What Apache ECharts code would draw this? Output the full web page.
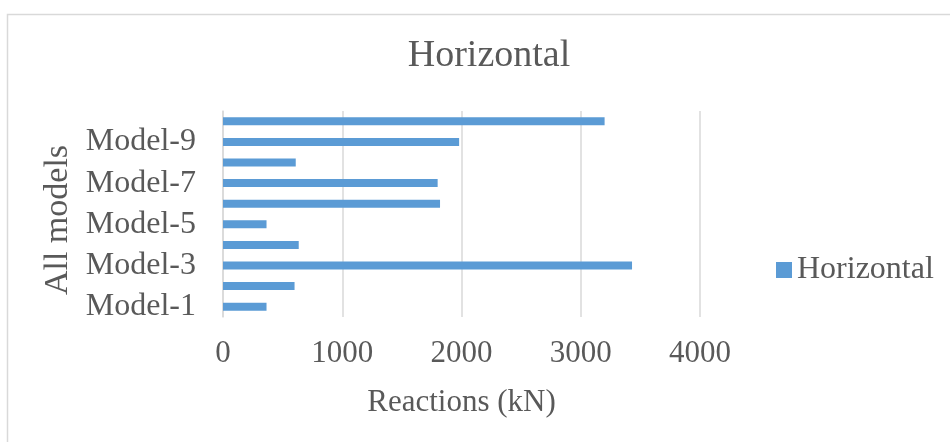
<!DOCTYPE html>
<html>
<head>
    <meta charset="UTF-8">
    <title>Horizontal</title>
    <script src="https://cdn.jsdelivr.net/npm/echarts@6/dist/echarts.min.js"></script>
    <style type="text/css">
        html, body, #main {
            height: 100%;
            width: 100%;
            margin: 0;
            padding: 0;
            background: #fff;
        }
    </style>
</head>
<body>
<div id="main"></div>
<script type="text/javascript">
    // 数据
    var categories = ['Model-1', 'Model-2', 'Model-3', 'Model-4', 'Model-5',
        'Model-6', 'Model-7', 'Model-8', 'Model-9', 'Model-10'];
    var horizontalValues = [365, 600, 3430, 635, 365, 1820, 1800, 610, 1980, 3200];
    var xTicks = [0, 1000, 2000, 3000, 4000];

    var font = '"Liberation Serif", "Times New Roman", serif';
    var textColor = '#595959';

    var mycharts = echarts.init(document.getElementById('main'));
    var option = {
        backgroundColor: '#fff',
        animation: false,
        graphic: [{
            type: 'rect',
            shape: {x: 7.5, y: 14.5, width: 1000, height: 500},
            style: {fill: 'none', stroke: '#d9d9d9', lineWidth: 1.5}
        }],
        title: {
            text: 'Horizontal',
            left: 484,
            textAlign: 'center',
            top: 32,
            textStyle: {fontFamily: font, fontSize: 38, fontWeight: 'normal', color: textColor}
        },
        legend: {
            left: 771,
            top: 249,
            icon: 'rect',
            itemWidth: 16,
            itemHeight: 16,
            itemGap: 8,
            textStyle: {fontFamily: font, fontSize: 32, color: textColor, padding: [0, 0, 0, 0]},
            data: ['Horizontal']
        },
        grid: {
            left: 223,
            right: 250,
            top: 111,
            bottom: 125,
            containLabel: false
        },
        xAxis: {
            type: 'value',
            min: xTicks[0],
            max: xTicks[xTicks.length - 1],
            interval: 1000,
            name: 'Reactions (kN)',
            nameLocation: 'middle',
            nameGap: 70,
            nameTextStyle: {fontFamily: font, fontSize: 31, color: textColor},
            axisLine: {show: false},
            axisTick: {show: false},
            axisLabel: {
                fontFamily: font, fontSize: 31, color: textColor, margin: 21,
                formatter: function (v) { return String(v); }
            },
            splitLine: {lineStyle: {color: '#d9d9d9', width: 1.5}}
        },
        yAxis: {
            type: 'category',
            data: categories,
            name: 'All models',
            nameLocation: 'middle',
            nameGap: 146,
            nameTextStyle: {fontFamily: font, fontSize: 34, color: textColor, padding: [0, 12, 0, 0]},
            axisLine: {show: true, lineStyle: {color: '#d9d9d9', width: 1.5}},
            axisTick: {show: false},
            axisLabel: {fontFamily: font, fontSize: 32, color: textColor, margin: 27, interval: 1}
        },
        series: [{
            name: 'Horizontal',
            type: 'bar',
            data: horizontalValues,
            barWidth: 8,
            itemStyle: {color: '#5b9bd5'}
        }]
    };
    mycharts.setOption(option);
</script>
</body>
</html>
